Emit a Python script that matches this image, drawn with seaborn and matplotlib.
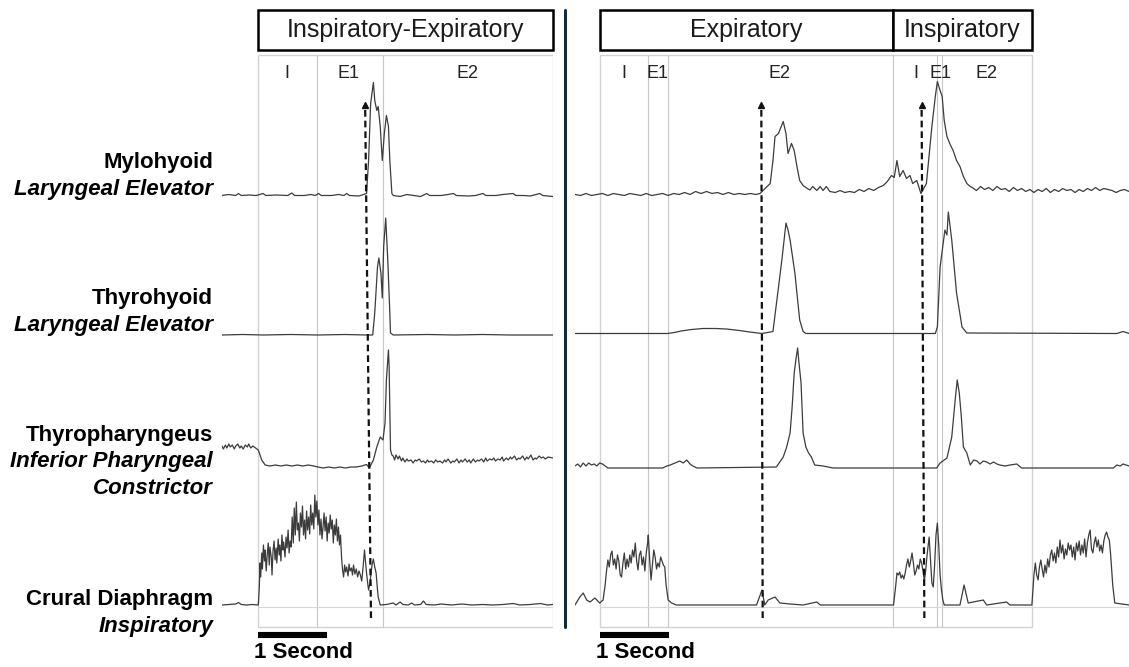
import matplotlib
matplotlib.use("Agg")
import pandas as pd
import seaborn as sns
import matplotlib.pyplot as plt
from matplotlib.patches import Rectangle
from matplotlib.lines import Line2D

# (time s, amplitude a.u. above resting level) for each EMG trace
L_MYLO = [(0.00, 0), (0.10, 1), (0.20, 0), (0.24, 2), (0.28, 0), (0.40, 0.5), (0.50, 0), (0.60, 2), (0.64, 0),
          (0.80, 0.5), (0.96, 0), (1.02, 2.5), (1.06, 0), (1.20, 0), (1.30, 1), (1.36, 0), (1.41, 2), (1.45, 0),
          (1.60, 0), (1.70, 1), (1.78, 0), (1.82, 2), (1.86, 0), (2.00, -0.5), (2.11, 2), (2.14, 35), (2.17, 92),
          (2.21, 113), (2.23, 95), (2.26, 85), (2.28, 89), (2.31, 69), (2.34, 35), (2.37, 62), (2.40, 80),
          (2.43, 69), (2.45, 35), (2.48, 2), (2.50, 0), (2.60, -1), (2.70, 1), (2.80, 0), (2.90, -1), (2.99, 2),
          (3.03, 0), (3.20, 0), (3.30, 1), (3.38, 2), (3.42, 0), (3.60, -0.5), (3.70, 0), (3.81, 2), (3.85, 0),
          (4.00, 0), (4.10, 1), (4.25, 2), (4.29, 0), (4.40, 0), (4.50, -0.5), (4.64, 2), (4.68, 0), (4.83, -1)]

L_THYRO = [(0.00, 0), (0.30, 0.5), (0.60, 0), (1.00, 0.5), (1.40, 0), (1.80, 0.5), (2.10, 0), (2.20, 0),
           (2.23, 22), (2.27, 68), (2.29, 77), (2.32, 62), (2.34, 37), (2.36, 88), (2.39, 117), (2.42, 75),
           (2.45, 22), (2.46, 2), (2.50, 0), (3.00, 0.5), (3.40, 0), (3.80, 0.5), (4.20, 0), (4.83, 0)]

L_TPH = [(0.00, 22), (0.02, 19), (0.05, 23), (0.07, 20), (0.10, 24), (0.12, 21), (0.15, 23), (0.18, 19),
         (0.20, 22), (0.23, 24), (0.26, 20), (0.28, 22), (0.31, 19), (0.34, 23), (0.37, 21), (0.39, 24),
         (0.42, 20), (0.45, 22), (0.49, 20), (0.53, 18), (0.58, 8), (0.63, 3), (0.70, 2), (0.78, 3), (0.86, 2),
         (0.94, 3), (1.02, 2), (1.10, 3), (1.18, 2), (1.26, 3), (1.34, 2), (1.40, 1), (1.48, 0), (1.56, 1),
         (1.64, 0), (1.72, 1), (1.80, 0), (1.88, 1), (1.96, 1), (2.04, 2), (2.11, 3.5), (2.15, 0), (2.21, 8),
         (2.26, 21), (2.31, 31), (2.35, 28), (2.38, 45), (2.40, 88), (2.43, 118), (2.44, 101), (2.46, 18),
         (2.48, 13), (2.50, 12), (2.52, 8), (2.54, 13), (2.57, 9), (2.59, 12), (2.62, 7), (2.64, 10),
         (2.67, 6), (2.70, 9), (2.72, 7), (2.76, 8), (2.79, 5), (2.82, 8), (2.84, 7), (2.88, 9), (2.91, 6),
         (2.94, 7), (2.97, 5), (3.00, 8), (3.02, 6), (3.06, 7), (3.09, 5), (3.12, 8), (3.15, 6), (3.18, 7),
         (3.22, 5), (3.25, 8), (3.27, 6), (3.30, 9), (3.34, 5), (3.37, 7), (3.39, 6), (3.43, 9), (3.46, 5),
         (3.49, 8), (3.51, 6), (3.55, 9), (3.58, 6), (3.61, 8), (3.63, 5), (3.67, 9), (3.70, 6), (3.73, 8),
         (3.75, 7), (3.79, 9), (3.82, 6), (3.85, 10), (3.87, 7), (3.91, 9), (3.94, 8), (3.97, 10), (3.99, 7),
         (4.03, 9), (4.06, 8), (4.09, 11), (4.11, 7), (4.15, 10), (4.18, 8), (4.21, 11), (4.23, 9), (4.27, 12),
         (4.30, 8), (4.33, 10), (4.35, 9), (4.39, 12), (4.42, 8), (4.45, 11), (4.47, 9), (4.51, 13), (4.54, 8),
         (4.57, 10), (4.59, 9), (4.63, 12), (4.66, 10), (4.69, 11), (4.72, 9), (4.76, 11), (4.83, 10)]

L_CRURAL = [(0.00, 0), (0.10, 0.5), (0.20, 1), (0.24, 2.5), (0.28, 0.5), (0.36, 0), (0.44, 0.5), (0.53, 0),
            (0.545, 18), (0.555, 42), (0.565, 28), (0.58, 52), (0.59, 36), (0.605, 60), (0.62, 44), (0.63, 55),
            (0.645, 34), (0.66, 50), (0.675, 62), (0.69, 40), (0.70, 58), (0.72, 47), (0.73, 30), (0.745, 54),
            (0.76, 64), (0.775, 45), (0.79, 57), (0.80, 42), (0.82, 66), (0.835, 50), (0.845, 60), (0.86, 44),
            (0.875, 70), (0.89, 55), (0.90, 63), (0.92, 48), (0.935, 68), (0.95, 57), (0.965, 75), (0.98, 52),
            (0.995, 64), (1.01, 58), (1.025, 88), (1.04, 62), (1.055, 97), (1.07, 70), (1.085, 103), (1.10, 75),
            (1.115, 82), (1.13, 64), (1.145, 92), (1.16, 78), (1.175, 99), (1.19, 70), (1.205, 85), (1.22, 66),
            (1.235, 94), (1.25, 75), (1.265, 88), (1.28, 71), (1.295, 100), (1.31, 80), (1.325, 92), (1.34, 76),
            (1.355, 110), (1.37, 88), (1.385, 104), (1.40, 80), (1.415, 95), (1.43, 70), (1.445, 86), (1.46, 66),
            (1.475, 78), (1.49, 92), (1.505, 74), (1.52, 88), (1.535, 64), (1.55, 82), (1.565, 72), (1.58, 90),
            (1.595, 76), (1.61, 85), (1.625, 62), (1.64, 80), (1.655, 70), (1.67, 86), (1.685, 64), (1.70, 78),
            (1.715, 60), (1.73, 70), (1.745, 48), (1.76, 35), (1.775, 28), (1.79, 40), (1.805, 33), (1.82, 38),
            (1.84, 29), (1.855, 41), (1.87, 34), (1.89, 37), (1.905, 30), (1.92, 40), (1.94, 31), (1.96, 36),
            (1.98, 28), (2.00, 34), (2.02, 30), (2.04, 24), (2.06, 38), (2.08, 55), (2.10, 40), (2.11, 32),
            (2.13, 20), (2.14, 15), (2.16, 22), (2.17, 28), (2.19, 40), (2.21, 46), (2.23, 38), (2.25, 32),
            (2.27, 15), (2.28, 8), (2.31, 0), (2.40, 0.5), (2.50, 2), (2.54, 0), (2.60, 3), (2.64, 0.5),
            (2.72, 0), (2.77, 2), (2.81, 0), (2.90, 0.5), (2.94, 4), (2.98, 0.5), (3.10, 0), (3.20, 1),
            (3.35, 0), (3.50, 1), (3.65, 0), (3.80, 0.5), (3.95, 0), (4.10, 0.5), (4.25, 1.5), (4.35, 0),
            (4.50, 0.5), (4.65, 1.5), (4.75, 0), (4.83, 0.5)]

R_MYLO = [(0.00, 1), (0.08, 0), (0.16, 2), (0.24, 0), (0.32, 1), (0.40, 2), (0.48, 0), (0.56, 2), (0.64, 1),
          (0.72, 0), (0.80, 2), (0.88, 1), (0.96, 0), (1.04, 2), (1.12, 0), (1.20, 1), (1.28, 2), (1.36, 0),
          (1.44, 2), (1.52, 1), (1.60, 3), (1.68, 1), (1.76, 4), (1.84, 2), (1.92, 4), (2.00, 2), (2.08, 3),
          (2.16, 1), (2.24, 3), (2.32, 1), (2.40, 2), (2.48, 1), (2.56, 2), (2.64, 1), (2.70, 2), (2.73, 4),
          (2.85, 12), (2.89, 35), (2.92, 59), (2.97, 62), (3.01, 69), (3.04, 74), (3.08, 62), (3.11, 42),
          (3.16, 52), (3.20, 45), (3.24, 29), (3.28, 15), (3.33, 10), (3.39, 7), (3.43, 5.5), (3.47, 9),
          (3.53, 5), (3.58, 9), (3.62, 5), (3.67, 9), (3.72, 4), (3.80, 3), (3.87, 5), (3.94, 3), (4.01, 4),
          (4.08, 3), (4.15, 6), (4.22, 4), (4.29, 7), (4.36, 5), (4.43, 8), (4.50, 10), (4.56, 14), (4.62, 20),
          (4.66, 18), (4.70, 35), (4.74, 19), (4.79, 25), (4.84, 17), (4.89, 20), (4.93, 12), (4.99, 15),
          (5.05, 2), (5.13, 12), (5.21, 69), (5.26, 99), (5.29, 114), (5.33, 105), (5.36, 99), (5.39, 75),
          (5.43, 59), (5.47, 52), (5.52, 45), (5.57, 35), (5.62, 29), (5.67, 19), (5.72, 12), (5.77, 9),
          (5.80, 8), (5.86, 5), (5.92, 9), (5.98, 6), (6.04, 8), (6.10, 5), (6.16, 9), (6.22, 6), (6.28, 7),
          (6.34, 4), (6.40, 8), (6.46, 5), (6.52, 7), (6.58, 4), (6.64, 6), (6.70, 3), (6.76, 6), (6.82, 4),
          (6.88, 7), (6.94, 3), (7.00, 6), (7.06, 4), (7.12, 7), (7.18, 5), (7.24, 6), (7.30, 3), (7.36, 6),
          (7.42, 4), (7.48, 7), (7.54, 5), (7.60, 8), (7.66, 5), (7.72, 7), (7.78, 6), (7.84, 5), (7.90, 3),
          (7.96, 5), (8.02, 6), (8.09, 4)]

R_THYRO = [(0.00, 1.5), (1.35, 1.5), (1.45, 2.5), (1.55, 4), (1.70, 5.5), (1.87, 6.5), (2.05, 6.5),
           (2.21, 6), (2.40, 4.5), (2.55, 3), (2.73, 1.5), (2.89, 3.5),
           (2.96, 42), (3.02, 75), (3.08, 112), (3.11, 105), (3.14, 95), (3.21, 62), (3.28, 15), (3.33, 3.5),
           (3.37, 1.5), (5.26, 1.5), (5.29, 8), (5.33, 68), (5.40, 105), (5.43, 100), (5.45, 123), (5.50, 95),
           (5.57, 42), (5.65, 8), (5.72, 2), (7.91, 1.5), (8.00, 3.5), (8.09, 1.5)]

R_TPH = [(0.00, 2), (0.04, 4), (0.08, 1), (0.12, 5), (0.16, 2), (0.20, 5), (0.24, 3), (0.28, 4), (0.32, 2),
         (0.36, 5), (0.40, 4), (0.44, 2), (0.48, 0), (1.28, 0), (1.34, 2), (1.39, 3), (1.46, 5), (1.53, 7),
         (1.58, 5), (1.63, 8), (1.68, 4), (1.72, 2), (1.78, 0), (2.94, 1), (3.04, 11), (3.09, 21), (3.14, 35),
         (3.17, 61), (3.20, 95), (3.23, 111), (3.25, 120), (3.27, 105), (3.30, 85), (3.33, 35), (3.37, 21),
         (3.41, 15), (3.45, 11), (3.50, 3), (3.62, 2), (3.77, 0), (5.28, 0), (5.33, 5), (5.43, 10), (5.50, 31),
         (5.55, 68), (5.58, 88), (5.61, 75), (5.64, 51), (5.67, 21), (5.72, 15), (5.77, 3), (5.82, 8),
         (5.87, 7), (5.91, 4), (5.96, 7), (6.01, 6), (6.06, 4), (6.11, 6), (6.16, 4), (6.20, 3), (6.28, 2),
         (6.35, 3), (6.45, 4), (6.52, 0), (7.86, 0), (7.91, 3), (7.96, 2), (8.00, 4), (8.09, 2)]

R_CRURAL = [(0.00, 0), (0.07, 8), (0.12, 12), (0.17, 5), (0.22, 3), (0.29, 7), (0.36, 2), (0.41, 5),
            (0.44, 20), (0.46, 34), (0.48, 45), (0.50, 38), (0.52, 50), (0.54, 54), (0.56, 40), (0.58, 46),
            (0.60, 36), (0.62, 50), (0.64, 44), (0.66, 30), (0.68, 28), (0.70, 42), (0.72, 52), (0.74, 36),
            (0.76, 46), (0.78, 38), (0.80, 50), (0.82, 42), (0.84, 55), (0.86, 48), (0.88, 62), (0.90, 44),
            (0.92, 35), (0.94, 50), (0.96, 54), (0.98, 40), (1.00, 48), (1.02, 34), (1.04, 52), (1.06, 62),
            (1.07, 70), (1.09, 45), (1.11, 25), (1.13, 40), (1.15, 55), (1.17, 48), (1.19, 36), (1.21, 42),
            (1.23, 38), (1.25, 48), (1.27, 44), (1.29, 40), (1.31, 38), (1.33, 20), (1.36, 5), (1.41, 2),
            (1.48, 0), (2.65, 0), (2.73, 15), (2.77, 0), (2.82, 5), (2.92, 8), (2.99, 2), (3.14, 1), (3.33, 0),
            (3.53, 3), (3.58, 0), (4.65, 0), (4.68, 18), (4.70, 32), (4.72, 30), (4.74, 33), (4.76, 27),
            (4.78, 30), (4.80, 26), (4.82, 32), (4.84, 40), (4.86, 46), (4.88, 38), (4.90, 44), (4.92, 52),
            (4.94, 42), (4.96, 30), (4.98, 34), (5.00, 40), (5.02, 36), (5.04, 46), (5.06, 42), (5.08, 34),
            (5.10, 24), (5.12, 35), (5.14, 50), (5.16, 62), (5.17, 68), (5.19, 45), (5.21, 22), (5.23, 18),
            (5.25, 40), (5.27, 70), (5.29, 82), (5.31, 60), (5.33, 30), (5.35, 15), (5.37, 5), (5.39, 0),
            (5.62, 0), (5.68, 20), (5.74, 2), (5.96, 5), (6.01, 0), (6.30, 3), (6.35, 0), (6.67, 0), (6.70, 30),
            (6.72, 42), (6.74, 30), (6.76, 25), (6.78, 38), (6.80, 45), (6.82, 36), (6.84, 28), (6.86, 40),
            (6.88, 32), (6.90, 46), (6.92, 38), (6.94, 50), (6.96, 55), (6.98, 44), (7.00, 52), (7.02, 42),
            (7.04, 58), (7.06, 48), (7.08, 65), (7.10, 52), (7.12, 60), (7.14, 46), (7.16, 56), (7.18, 50),
            (7.20, 62), (7.22, 55), (7.24, 60), (7.26, 48), (7.28, 58), (7.30, 45), (7.32, 62), (7.34, 54),
            (7.36, 64), (7.38, 50), (7.40, 60), (7.42, 52), (7.44, 66), (7.46, 48), (7.48, 62), (7.50, 70),
            (7.52, 75), (7.54, 56), (7.56, 52), (7.58, 62), (7.60, 68), (7.62, 58), (7.64, 65), (7.66, 54),
            (7.68, 60), (7.70, 52), (7.72, 64), (7.74, 70), (7.76, 73), (7.78, 68), (7.80, 65), (7.82, 50),
            (7.85, 20), (7.88, 2), (8.09, 0)]

MUSCLES = [("Mylohyoid", ["Laryngeal Elevator"]),
           ("Thyrohyoid", ["Laryngeal Elevator"]),
           ("Thyropharyngeus", ["Inferior Pharyngeal", "Constrictor"]),
           ("Crural Diaphragm", ["Inspiratory"])]

L_PHASE_LINES = [1.39, 2.35]
R_PHASE_LINES = [1.07, 1.36, 4.64, 5.29, 5.36]
L_PHASES = [("I", 0.95), ("E1", 1.84), ("E2", 3.59)]
R_PHASES = [("I", 0.71), ("E1", 1.21), ("E2", 2.99), ("I", 4.98), ("E1", 5.34), ("E2", 6.01)]
L_HEADERS = [("Inspiratory-Expiratory", 0.53, 4.83)]
R_HEADERS = [("Expiratory", 0.37, 4.64), ("Inspiratory", 4.64, 6.67)]
L_ARROWS = [(2.09, 2.175)]
R_ARROWS = [(2.72, 2.74), (5.06, 5.10)]

# layout (pixels of the 1129x667 canvas)
W, H = 1129, 667
PX_PER_S = 68.5
BASE = {"mylo": 195.5, "thyro": 335, "tph": 468, "cru": 605}
TRACE_COLOR = "#3c3c3c"
GRID_COLOR = "#c6c6c6"

sns.set_theme(style="white")
plt.rcParams["font.family"] = ["Liberation Sans", "DejaVu Sans"]
plt.rcParams["text.color"] = "black"

fig = plt.figure(figsize=(W / 100, H / 100), dpi=100)


def panel(x0_px, t_end, frame, traces, lines, phases, headers, arrows):
    ax = fig.add_axes([x0_px / W, 0, t_end * PX_PER_S / W, 1])
    ax.set_xlim(0, t_end)
    ax.set_ylim(0, H)
    ax.axis("off")
    f0, f1 = frame
    ax.add_patch(Rectangle((f0, H - 627), f1 - f0, 627 - 55, fill=False, ec="#d2d2d2", lw=1.0))
    ax.vlines(lines, H - 627, H - 55, color=GRID_COLOR, lw=0.8)
    ax.hlines(H - 606.5, f0, t_end, color="#d8d8d8", lw=0.8)
    for key, pts in traces:
        df = pd.DataFrame(pts, columns=["t", "v"])
        df["y"] = H - BASE[key] + df["v"]
        sns.lineplot(data=df, x="t", y="y", ax=ax, color=TRACE_COLOR, lw=0.9,
                     estimator=None, sort=False)
    for label, t in phases:
        ax.text(t, H - 73, label, ha="center", va="center", fontsize=13, color="#222222")
    for label, a, b in headers:
        ax.add_patch(Rectangle((a, H - 50), b - a, 40, fc="white", ec="black", lw=1.8, clip_on=False))
        ax.text((a + b) / 2, H - 30, label, ha="center", va="center", fontsize=18, color="#1a1a1a")
    for t_top, t_bot in arrows:
        ax.plot([t_bot, t_top], [H - 618, H - 108], color="#111111", lw=1.6, dashes=(3, 1.8))
        ax.plot([t_top], [H - 105], marker="^", ms=5, color="#111111")
    ax.plot([f0, f0 + 1], [H - 634.7] * 2, color="black", lw=4.4, solid_capstyle="butt")
    ax.text(f0 - 0.06, H - 652.7, "1 Second", ha="left", va="center", fontsize=16, fontweight="bold")
    ax.set_xlabel("")
    ax.set_ylabel("")
    return ax


panel(222, 4.83, (0.53, 4.83),
      [("mylo", L_MYLO), ("thyro", L_THYRO), ("tph", L_TPH), ("cru", L_CRURAL)],
      L_PHASE_LINES, L_PHASES, L_HEADERS, L_ARROWS)
panel(575, 8.09, (0.37, 6.67),
      [("mylo", R_MYLO), ("thyro", R_THYRO), ("tph", R_TPH), ("cru", R_CRURAL)],
      R_PHASE_LINES, R_PHASES, R_HEADERS, R_ARROWS)

# muscle names at the left
label_rows = [162.7, 298.3, 435, 600]
for (name, subs), y in zip(MUSCLES, label_rows):
    fig.text(213 / W, 1 - y / H, name, ha="right", va="center", fontsize=16, fontweight="bold")
    for i, s in enumerate(subs):
        fig.text(213 / W, 1 - (y + 26.7 * (i + 1)) / H, s, ha="right", va="center",
                 fontsize=16, fontweight="bold", fontstyle="italic")

# divider between the two recordings
fig.add_artist(Line2D([564.5 / W] * 2, [1 - 10 / H, 1 - 627 / H], color="#0f2b46", lw=2.2))

fig.savefig("out.png", dpi=100)
